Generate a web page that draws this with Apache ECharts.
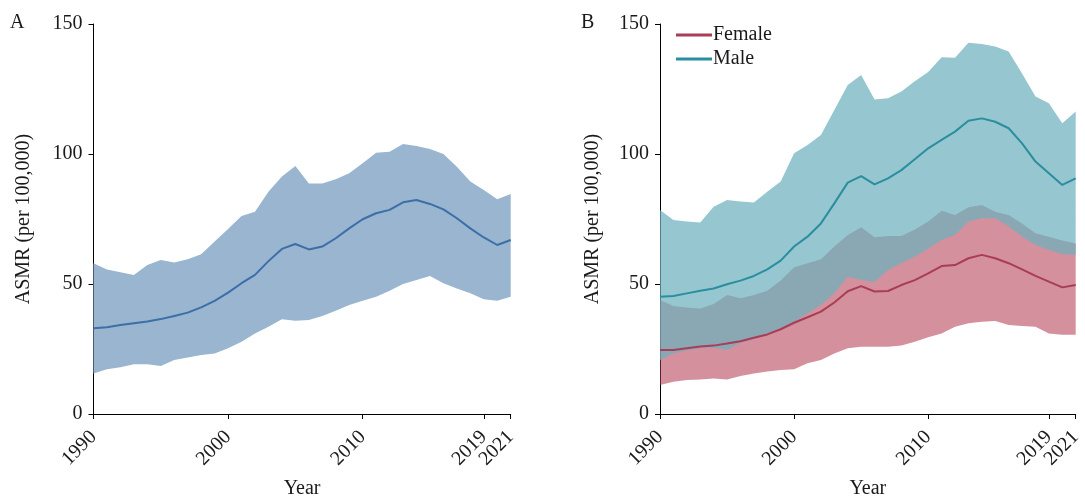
<!DOCTYPE html>
<html>
<head>
<meta charset="utf-8">
<script src="https://cdn.jsdelivr.net/npm/echarts@6/dist/echarts.min.js"></script>
<style>html,body{margin:0;padding:0;background:#fff;}#c{width:1085px;height:497px;}</style>
</head>
<body>
<div id="c"></div>
<script>
var years = [];
for (var y = 1990; y <= 2021; y++) years.push(String(y));
var tickYears = ['1990', '2000', '2010', '2019', '2021'];
var yTicks = [0, 50, 100, 150];

// Panel A (both sexes)
var aMean  = [33.0, 33.4, 34.2, 34.9, 35.6, 36.5, 37.7, 39.0, 41.0, 43.5, 46.7, 50.3, 53.5, 58.8, 63.5, 65.4, 63.3, 64.4, 67.6, 71.4, 74.9, 77.2, 78.5, 81.4, 82.3, 80.8, 78.7, 75.3, 71.4, 67.9, 65.0, 66.9];
var aLower = [15.6, 17.2, 18.0, 19.1, 19.1, 18.5, 20.8, 21.7, 22.7, 23.3, 25.3, 27.8, 31.0, 33.6, 36.4, 35.9, 36.2, 37.7, 39.7, 41.9, 43.6, 45.1, 47.4, 50.0, 51.5, 53.1, 50.3, 48.3, 46.4, 44.1, 43.6, 45.1];
var aUpper = [58.0, 55.6, 54.5, 53.5, 57.3, 59.2, 58.3, 59.5, 61.4, 66.3, 71.2, 76.2, 77.8, 85.5, 91.3, 95.4, 88.7, 88.7, 90.3, 92.6, 96.4, 100.5, 100.9, 103.8, 103.1, 101.9, 100.0, 95.1, 89.4, 86.2, 82.6, 84.6];

// Panel B (by sex)
var fMean  = [24.6, 24.6, 25.3, 26.0, 26.3, 27.1, 28.0, 29.3, 30.6, 32.6, 35.1, 37.2, 39.4, 42.9, 47.2, 49.2, 47.1, 47.3, 49.6, 51.5, 54.1, 56.9, 57.3, 59.9, 61.2, 59.9, 58.0, 55.6, 53.1, 50.9, 48.7, 49.6];
var fLower = [11.2, 12.4, 13.1, 13.3, 13.7, 13.3, 14.6, 15.6, 16.3, 16.9, 17.2, 19.5, 20.8, 23.3, 25.3, 25.9, 25.9, 25.9, 26.3, 27.8, 29.5, 31.0, 33.6, 34.9, 35.5, 35.8, 34.2, 33.8, 33.6, 31.0, 30.5, 30.5];
var fUpper = [43.8, 41.5, 41.0, 40.6, 42.3, 45.8, 44.5, 45.8, 47.4, 51.3, 56.4, 58.0, 59.5, 64.4, 68.8, 71.8, 68.0, 68.5, 68.5, 71.0, 74.0, 78.2, 76.5, 79.5, 80.4, 77.8, 76.5, 73.3, 69.5, 68.2, 66.7, 65.6];
var mMean  = [45.1, 45.4, 46.4, 47.4, 48.3, 49.9, 51.3, 53.1, 55.6, 59.0, 64.4, 68.2, 73.3, 81.0, 89.0, 91.5, 88.3, 90.6, 93.8, 98.0, 102.2, 105.4, 108.6, 112.8, 113.7, 112.4, 109.9, 104.1, 97.1, 92.6, 88.1, 90.6];
var mLower = [20.8, 23.3, 24.4, 25.3, 25.5, 24.6, 27.4, 28.7, 31.0, 33.0, 35.5, 38.7, 41.9, 46.4, 52.8, 51.5, 50.8, 55.4, 58.0, 60.5, 63.7, 66.9, 68.8, 74.0, 75.3, 75.3, 72.1, 68.2, 65.0, 63.1, 61.5, 61.2];
var mUpper = [78.5, 74.6, 74.0, 73.7, 79.7, 82.3, 81.7, 81.3, 85.5, 89.4, 100.3, 103.5, 107.3, 116.9, 126.5, 130.4, 121.0, 121.4, 124.0, 128.0, 131.5, 137.2, 137.0, 142.8, 142.3, 141.3, 139.4, 131.0, 122.1, 119.5, 111.8, 116.3];

function diff(u, l) { return u.map(function (v, i) { return +(v - l[i]).toFixed(2); }); }

var FONT = 'Liberation Serif';
var TXT = '#1a1a1a';
function isTick(i, v) { return tickYears.indexOf(String(v)) >= 0; }

function xAxis(gi) {
  return {
    type: 'category', gridIndex: gi, data: years, boundaryGap: false,
    name: 'Year', nameLocation: 'middle', nameGap: 65,
    nameTextStyle: { fontFamily: FONT, fontSize: 20, color: TXT },
    axisLine: { lineStyle: { color: '#000', width: 1 } },
    axisTick: { interval: isTick, length: 5, lineStyle: { color: '#000' } },
    axisLabel: { interval: 0, rotate: 45, margin: 20, fontFamily: FONT, fontSize: 20, color: TXT,
      formatter: function (v) { return tickYears.indexOf(String(v)) >= 0 ? v : ''; } },
    splitLine: { show: false }
  };
}
function yAxis(gi, gap) {
  return {
    type: 'value', gridIndex: gi, min: yTicks[0], max: yTicks[yTicks.length - 1], interval: 50,
    name: 'ASMR (per 100,000)', nameLocation: 'middle', nameGap: gap,
    nameTextStyle: { fontFamily: FONT, fontSize: 20, color: TXT },
    axisLine: { show: true, lineStyle: { color: '#000', width: 1 } },
    axisTick: { show: true, length: 5, lineStyle: { color: '#000' } },
    axisLabel: { margin: 11, fontFamily: FONT, fontSize: 20, color: TXT },
    splitLine: { show: false }
  };
}

function band(name, gi, lower, upper, stack, color) {
  return [
    { name: name + '_lo', type: 'line', xAxisIndex: gi, yAxisIndex: gi, data: lower, stack: stack,
      symbol: 'none', lineStyle: { opacity: 0 }, silent: true },
    { name: name + '_band', type: 'line', xAxisIndex: gi, yAxisIndex: gi, data: diff(upper, lower), stack: stack,
      symbol: 'none', lineStyle: { opacity: 0 }, areaStyle: { color: color, opacity: 1 }, silent: true }
  ];
}
function meanLine(name, gi, data, color) {
  return { name: name, type: 'line', xAxisIndex: gi, yAxisIndex: gi, data: data, symbol: 'none',
    itemStyle: { color: color }, lineStyle: { color: color, width: 2 } };
}

var series = [];
series = series.concat(band('A', 0, aLower, aUpper, 'a', '#99b5d0'));
series.push(meanLine('All', 0, aMean, '#3c6fa7'));
series = series.concat(band('F', 1, fLower, fUpper, 'f', 'rgba(176,52,74,0.55)'));
series.push(meanLine('Female', 1, fMean, '#a93d58'));
series = series.concat(band('M', 1, mLower, mUpper, 'm', 'rgba(110,178,190,0.72)'));
series.push(meanLine('Male', 1, mMean, '#2a8e9e'));

var chart = echarts.init(document.getElementById('c'), null, { renderer: 'canvas' });
chart.setOption({
  animation: false,
  backgroundColor: '#fff',
  grid: [
    { left: 93.5, top: 24, width: 417.2, height: 390, outerBoundsMode: 'none', containLabel: false },
    { left: 660, top: 24, width: 415.7, height: 390, outerBoundsMode: 'none', containLabel: false }
  ],
  xAxis: [xAxis(0), xAxis(1)],
  yAxis: [yAxis(0, 60), yAxis(1, 57)],
  legend: {
    data: ['Female', 'Male'], orient: 'vertical', left: 671, top: 20,
    icon: 'rect', itemWidth: 36, itemHeight: 3, itemGap: 4,
    textStyle: { fontFamily: FONT, fontSize: 20, color: TXT, lineHeight: 18, padding: [0, 0, 0, -4] }
  },
  graphic: [
    { type: 'text', left: 10, top: 13, style: { text: 'A', font: '20px "Liberation Serif"', fill: TXT } },
    { type: 'text', left: 581, top: 13, style: { text: 'B', font: '20px "Liberation Serif"', fill: TXT } }
  ],
  series: series
});
</script>
</body>
</html>
